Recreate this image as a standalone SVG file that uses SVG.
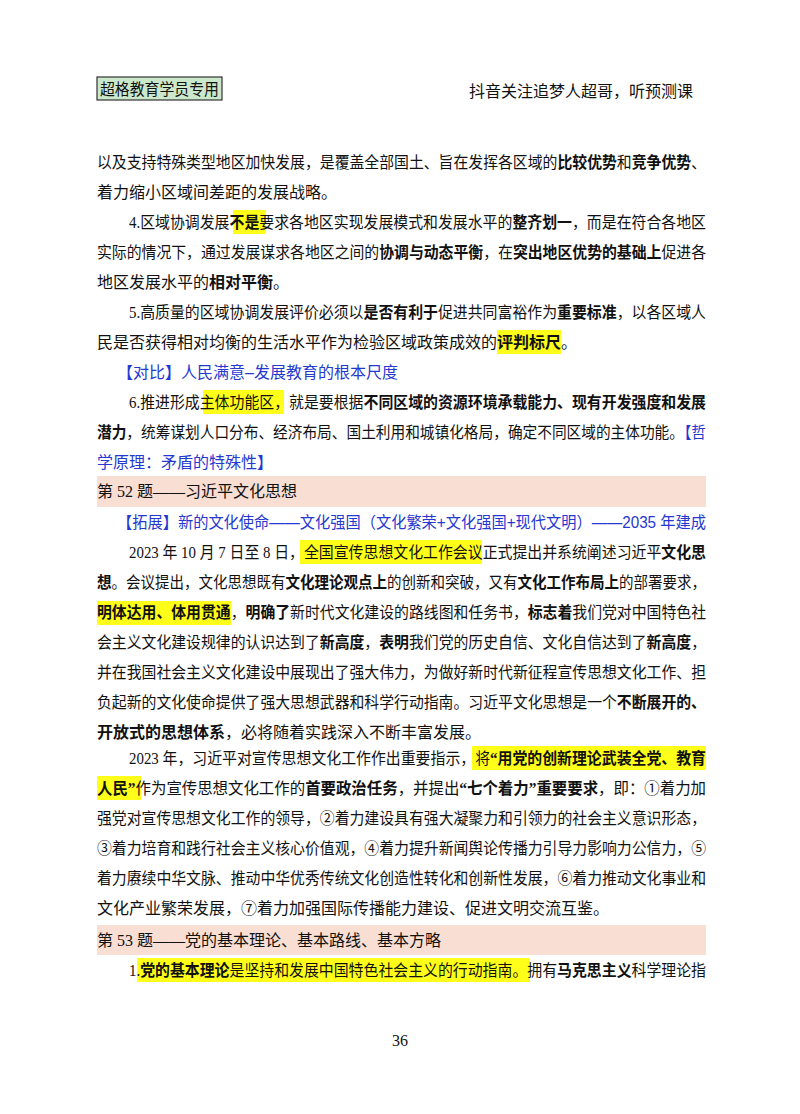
<svg xmlns="http://www.w3.org/2000/svg" width="800" height="1114" viewBox="0 0 800 1114">
<style>
text{font-family:"Liberation Serif","Noto Sans CJK SC",serif;font-size:16px;fill:#111}
.b{font-weight:bold}
.bl{fill:#2538d0;font-family:"Liberation Sans","Noto Sans CJK SC",sans-serif}
.hl{fill:#ffff1a}
.band{fill:#f9ded3}
</style>
<rect width="800" height="1114" fill="#fff"/>
<g id="header">
<rect x="97" y="77" width="125" height="23" fill="#cbe8cb" stroke="#333" stroke-width="1.2"/>
<text x="100" y="95" font-size="15" textLength="119" lengthAdjust="spacingAndGlyphs">超格教育学员专用</text>
<text x="693" y="97" text-anchor="end">抖音关注追梦人超哥，听预测课</text>
</g>
<g id="highlights">
<rect class="hl" x="233" y="210" width="33" height="24"/>
<rect class="hl" x="497" y="330" width="64" height="24"/>
<rect class="hl" x="203" y="390" width="81" height="24"/>
<rect class="hl" x="300" y="540" width="182" height="24"/>
<rect class="hl" x="97" y="601" width="134" height="24"/>
<rect class="hl" x="472" y="746" width="234" height="24"/>
<rect class="hl" x="97" y="776" width="44" height="24"/>
<rect class="hl" x="137" y="958" width="393" height="24"/>
<rect class="band" x="97" y="476" width="609" height="31"/>
<rect class="band" x="97" y="925" width="609" height="30"/>
</g>
<g id="body">
<text x="97" y="168" textLength="609" lengthAdjust="spacingAndGlyphs">以及支持特殊类型地区加快发展，是覆盖全部国土、旨在发挥各区域的<tspan class="b">比较优势</tspan>和<tspan class="b">竞争优势</tspan>、</text>
<text x="97" y="198">着力缩小区域间差距的发展战略。</text>
<text x="129" y="228" textLength="577" lengthAdjust="spacingAndGlyphs">4.区域协调发展<tspan class="b">不是</tspan>要求各地区实现发展模式和发展水平的<tspan class="b">整齐划一</tspan>，而是在符合各地区</text>
<text x="97" y="258" textLength="609" lengthAdjust="spacingAndGlyphs">实际的情况下，通过发展谋求各地区之间的<tspan class="b">协调与动态平衡</tspan>，在<tspan class="b">突出地区优势的基础上</tspan>促进各</text>
<text x="97" y="288">地区发展水平的<tspan class="b">相对平衡</tspan>。</text>
<text x="129" y="318" textLength="577" lengthAdjust="spacingAndGlyphs">5.高质量的区域协调发展评价必须以<tspan class="b">是否有利于</tspan>促进共同富裕作为<tspan class="b">重要标准</tspan>，以各区域人</text>
<text x="97" y="348">民是否获得相对均衡的生活水平作为检验区域政策成效的<tspan class="b">评判标尺</tspan>。</text>
<text class="bl" x="117" y="378">【对比】人民满意–发展教育的根本尺度</text>
<text x="129" y="408" textLength="577" lengthAdjust="spacingAndGlyphs">6.推进形成主体功能区，就是要根据<tspan class="b">不同区域的资源环境承载能力、现有开发强度和发展</tspan></text>
<text x="97" y="438" textLength="609" lengthAdjust="spacingAndGlyphs"><tspan class="b">潜力</tspan>，统筹谋划人口分布、经济布局、国土利用和城镇化格局，确定不同区域的主体功能。<tspan class="bl">【哲</tspan></text>
<text class="bl" x="97" y="468">学原理：矛盾的特殊性】</text>
<text x="97" y="497">第 52 题——习近平文化思想</text>
<text class="bl" x="117" y="528" textLength="589" lengthAdjust="spacingAndGlyphs">【拓展】新的文化使命——文化强国（文化繁荣+文化强国+现代文明）——2035 年建成</text>
<text x="129" y="558" textLength="577" lengthAdjust="spacingAndGlyphs">2023 年 10 月 7 日至 8 日，全国宣传思想文化工作会议正式提出并系统阐述习近平<tspan class="b">文化思</tspan></text>
<text x="97" y="588" textLength="609" lengthAdjust="spacingAndGlyphs"><tspan class="b">想</tspan>。会议提出，文化思想既有<tspan class="b">文化理论观点上</tspan>的创新和突破，又有<tspan class="b">文化工作布局上</tspan>的部署要求，</text>
<text x="97" y="618" textLength="609" lengthAdjust="spacingAndGlyphs"><tspan class="b">明体达用、体用贯通</tspan>，<tspan class="b">明确了</tspan>新时代文化建设的路线图和任务书，<tspan class="b">标志着</tspan>我们党对中国特色社</text>
<text x="97" y="648" textLength="609" lengthAdjust="spacingAndGlyphs">会主义文化建设规律的认识达到了<tspan class="b">新高度</tspan>，<tspan class="b">表明</tspan>我们党的历史自信、文化自信达到了<tspan class="b">新高度</tspan>，</text>
<text x="97" y="678" textLength="609" lengthAdjust="spacingAndGlyphs">并在我国社会主义文化建设中展现出了强大伟力，为做好新时代新征程宣传思想文化工作、担</text>
<text x="97" y="708" textLength="609" lengthAdjust="spacingAndGlyphs">负起新的文化使命提供了强大思想武器和科学行动指南。习近平文化思想是一个<tspan class="b">不断展开的、</tspan></text>
<text x="97" y="738"><tspan class="b">开放式的思想体系</tspan>，必将随着实践深入不断丰富发展。</text>
<text x="129" y="764" textLength="577" lengthAdjust="spacingAndGlyphs">2023 年，习近平对宣传思想文化工作作出重要指示，将<tspan class="b">“用党的创新理论武装全党、教育</tspan></text>
<text x="97" y="794" textLength="609" lengthAdjust="spacingAndGlyphs"><tspan class="b">人民”</tspan>作为宣传思想文化工作的<tspan class="b">首要政治任务</tspan>，并提出<tspan class="b">“七个着力”重要要求</tspan>，即：①着力加</text>
<text x="97" y="824" textLength="609" lengthAdjust="spacingAndGlyphs">强党对宣传思想文化工作的领导，②着力建设具有强大凝聚力和引领力的社会主义意识形态，</text>
<text x="97" y="854" textLength="609" lengthAdjust="spacingAndGlyphs">③着力培育和践行社会主义核心价值观，④着力提升新闻舆论传播力引导力影响力公信力，⑤</text>
<text x="97" y="884" textLength="609" lengthAdjust="spacingAndGlyphs">着力赓续中华文脉、推动中华优秀传统文化创造性转化和创新性发展，⑥着力推动文化事业和</text>
<text x="97" y="914">文化产业繁荣发展，⑦着力加强国际传播能力建设、促进文明交流互鉴。</text>
<text x="97" y="946">第 53 题——党的基本理论、基本路线、基本方略</text>
<text x="129" y="976" textLength="577" lengthAdjust="spacingAndGlyphs">1.<tspan class="b">党的基本理论</tspan>是坚持和发展中国特色社会主义的行动指南。拥有<tspan class="b">马克思主义</tspan>科学理论指</text>
<text x="400" y="1046" text-anchor="middle" font-size="14">36</text>
</g>
</svg>
